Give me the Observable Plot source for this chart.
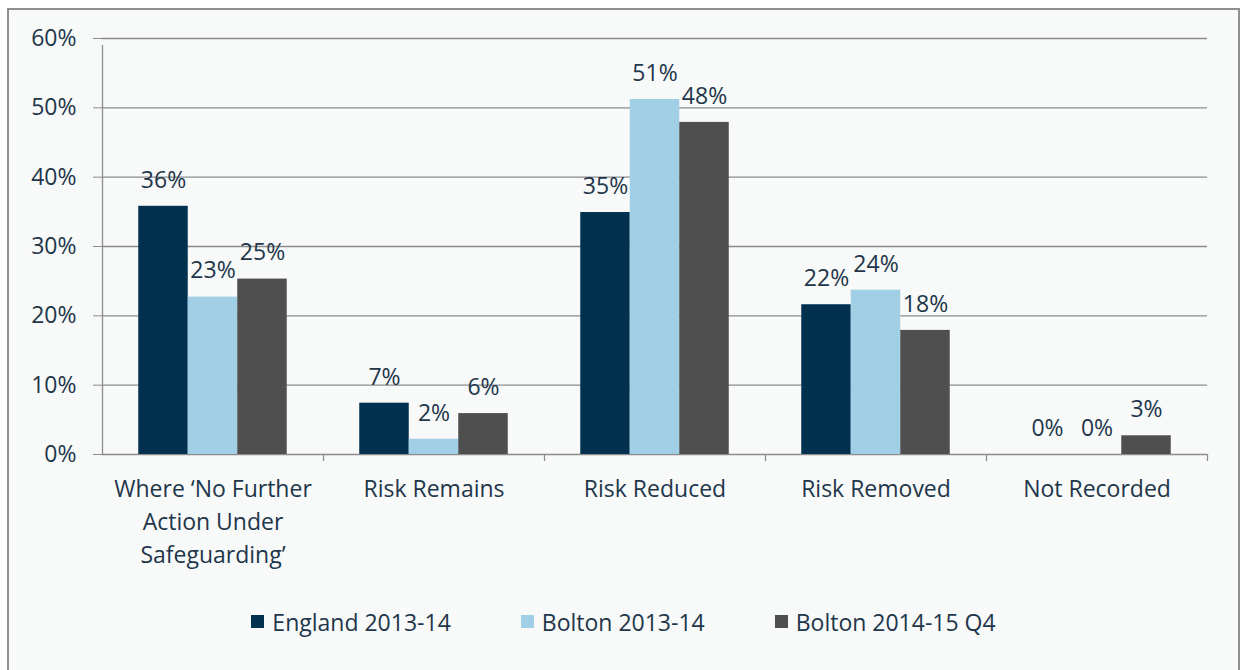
<!DOCTYPE html>
<html>
<head>
<meta charset="utf-8">
<script src="https://cdn.jsdelivr.net/npm/d3@7"></script>
<script src="https://cdn.jsdelivr.net/npm/@observablehq/plot@0.6"></script>
<style>
html, body { margin: 0; padding: 0; background: #ffffff; }
#frame {
  position: absolute; left: 7px; top: 8px;
  width: 1229px; height: 680px;
  border: 2px solid #8f8f8f; border-bottom: none;
  background: #f8f9f9;
  font-family: "Open Sans", sans-serif;
}
#legend { margin-top: 15px; }
#legend .lg-swatches { display: flex !important; justify-content: center !important; align-items: center;
  font-family: "Open Sans", sans-serif !important; font-size: 23px !important; color: #22364a !important; margin: 0 !important; }
#legend .lg-swatch { margin-right: 70px !important; }
#legend .lg-swatch:last-child { margin-right: 0 !important; }
#legend .lg-swatch > svg { margin-right: 8px !important; }
</style>
</head>
<body>
<div id="frame"></div>
<script>
// ---- data ----
const categories = [
  "Where \u2018No Further\nAction Under\nSafeguarding\u2019",
  "Risk Remains",
  "Risk Reduced",
  "Risk Removed",
  "Not Recorded"
];
const series = ["England 2013-14", "Bolton 2013-14", "Bolton 2014-15 Q4"];
const england2013 = [35.8, 7.4, 34.9, 21.6, 0];
const bolton2013 = [22.7, 2.2, 51.2, 23.7, 0];
const bolton2015 = [25.3, 5.9, 47.9, 17.9, 2.7];
const yTicks = [0, 10, 20, 30, 40, 50, 60];

// ---- styles ----
const colors = ["#02314f", "#a1cfe6", "#4f4f4f"];
const textColor = "#22364a";
const gridColor = "#8c8c8c";
const fontFamily = "'Open Sans', sans-serif";
const fs = 23;

const values = [england2013, bolton2013, bolton2015];
const rows = [];
series.forEach((s, si) => categories.forEach((c, ci) => rows.push({category: c, series: s, si, value: values[si][ci]})));

// layout of grouped bars within each category band (pixels)
const width = 1229, marginLeft = 93, marginRight = 31;
const band = (width - marginLeft - marginRight) / categories.length;
const groupPad = 36.25;
const barW = (band - 2 * groupPad) / series.length;

const marks = [
  Plot.ruleY(yTicks, {y: d => d, stroke: gridColor, strokeWidth: 1.3})
];
series.forEach((s, si) => {
  const data = rows.filter(r => r.si === si);
  const left = groupPad + si * barW;
  const right = band - left - barW;
  marks.push(Plot.barY(data, {x: "category", y: "value", fill: colors[si], insetLeft: left, insetRight: right}));
  marks.push(Plot.text(data, {
    x: "category", y: "value",
    text: d => Math.round(d.value) + "%",
    dx: left + barW / 2 - band / 2, dy: -26,
    fontSize: fs, fill: textColor, lineAnchor: "middle"
  }));
});
// y axis line
marks.push(Plot.ruleX([categories[0]], {x: d => d, y1: 0, y2: 60, dx: -band / 2, insetBottom: -7, stroke: gridColor, strokeWidth: 1.3}));
// category boundary ticks
marks.push(Plot.ruleX(categories, {x: d => d, y1: 0, y2: 0, dx: band / 2, insetBottom: -7, stroke: gridColor, strokeWidth: 1.3}));
marks.push(Plot.axisY({ticks: yTicks, tickFormat: d => d + "%", tickSize: 9, tickPadding: 17, fontSize: fs, stroke: gridColor, fill: textColor, label: null}));
marks.push(Plot.axisX({tickSize: 0, tickPadding: 19, fontSize: fs, lineHeight: 1.43, fill: textColor, label: null}));

const chart = Plot.plot({
  width, height: 580,
  marginLeft, marginRight, marginTop: 28, marginBottom: 136,
  style: {background: "transparent", fontFamily, color: textColor, overflow: "visible"},
  x: {type: "band", domain: categories, padding: 0, axis: null},
  y: {domain: [0, 60], axis: null},
  marks
});

const legend = Plot.legend({
  color: {type: "ordinal", domain: series, range: colors},
  legend: "swatches", swatchSize: 13, className: "lg"
});

const frame = document.getElementById("frame");
frame.appendChild(chart);
const lg = document.createElement("div");
lg.id = "legend";
lg.appendChild(legend);
frame.appendChild(lg);
</script>
</body>
</html>
